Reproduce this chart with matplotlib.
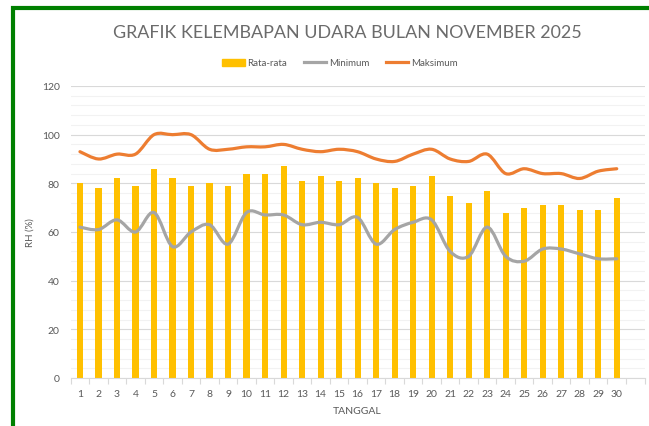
import matplotlib
matplotlib.use("Agg")
import matplotlib.pyplot as plt
import numpy as np
from matplotlib.path import Path
from matplotlib.patches import PathPatch, Rectangle
from matplotlib.lines import Line2D
from matplotlib.ticker import MultipleLocator

plt.rcParams['font.family'] = ['Lato', 'DejaVu Sans']

days = list(range(1, 31))
rata_rata = [80, 78, 82, 79, 86, 82, 79, 80, 79, 84, 84, 87, 81, 83, 81,
             82, 80, 78, 79, 83, 75, 72, 77, 68, 70, 71, 71, 69, 69, 74]
minimum = [62, 61, 65, 60, 68, 54, 60, 63, 55, 68, 67, 67, 63, 64, 63,
           66, 55, 61, 64, 65, 52, 50, 62, 50, 48, 53, 53, 51, 49, 49]
maksimum = [93, 90, 92, 92, 100, 100, 100, 94, 94, 95, 95, 96, 94, 93, 94,
            93, 90, 89, 92, 94, 90, 89, 92, 84, 86, 84, 84, 82, 85, 86]
x_ticks = [str(d) for d in days]
title = "GRAFIK KELEMBAPAN UDARA BULAN NOVEMBER 2025"

C_BAR = '#FFC000'
C_MIN = '#A5A5A5'
C_MAX = '#ED7D31'
C_TXT = '#595959'

W, H = 649, 427
fig = plt.figure(figsize=(W / 100, H / 100), dpi=100)

ax = fig.add_axes([70.7 / W, (H - 379) / H, (644.5 - 70.7) / W, (379 - 87) / H])


def smooth_path(xs, ys):
    xs = np.asarray(xs, float)
    ys = np.asarray(ys, float)
    pts = np.column_stack([xs, ys])
    n = len(pts)
    verts = [pts[0]]
    codes = [Path.MOVETO]
    for i in range(n - 1):
        p0 = pts[i - 1] if i > 0 else pts[i]
        p1 = pts[i]
        p2 = pts[i + 1]
        p3 = pts[i + 2] if i + 2 < n else pts[i + 1]
        c1 = p1 + (p2 - p0) / 6.0
        c2 = p2 - (p3 - p1) / 6.0
        verts += [c1, c2, p2]
        codes += [Path.CURVE4] * 3
    return Path(verts, codes)


ax.bar(days, rata_rata, width=0.33, color=C_BAR, zorder=2)
for ys, col in [(minimum, C_MIN), (maksimum, C_MAX)]:
    patch = PathPatch(smooth_path(days, ys), facecolor='none', edgecolor=col,
                      lw=2.3, capstyle='round', joinstyle='round', zorder=3)
    ax.add_patch(patch)

ax.set_xlim(0.5, 31.5)
ax.set_ylim(0, 120)
ax.yaxis.set_major_locator(MultipleLocator(20))
ax.yaxis.set_minor_locator(MultipleLocator(4))
ax.grid(axis='y', which='major', color='#D9D9D9', lw=0.8, zorder=0)
ax.grid(axis='y', which='minor', color='#F2F2F2', lw=0.8, zorder=0)
ax.set_axisbelow(True)
ax.set_xticks(days)
ax.set_xticklabels(x_ticks)
ax.set_xticks(np.arange(0.5, 32, 1), minor=True)
ax.tick_params(axis='x', which='major', length=0, pad=8, labelsize=7.5, colors=C_TXT)
ax.tick_params(axis='x', which='minor', length=4, color='#D9D9D9', width=0.8)
ax.tick_params(axis='y', which='both', length=0, pad=8, labelsize=7.5, colors=C_TXT)
for s in ['top', 'right', 'left']:
    ax.spines[s].set_visible(False)
ax.spines['bottom'].set_color('#D9D9D9')
ax.spines['bottom'].set_linewidth(0.8)
ax.set_xlabel('TANGGAL', fontsize=7.5, color=C_TXT, labelpad=6)
ax.set_ylabel('RH (%)', fontsize=7, color=C_TXT)
ax.yaxis.set_label_coords((35 - 70.7) / 573.8, 0.5)

fig.text(347 / W, 1 - 33 / H, title, ha='center', va='center', fontsize=12.9,
         color='#6b6b6b', fontweight='normal')

handles = [Rectangle((0, 0), 1, 1, color=C_BAR),
           Line2D([], [], color=C_MIN, lw=2.3),
           Line2D([], [], color=C_MAX, lw=2.3)]
fig.legend(handles, ['Rata-rata', 'Minimum', 'Maksimum'], loc='center',
           bbox_to_anchor=(340 / W, 1 - 64 / H), ncol=3, frameon=False,
           fontsize=7, labelcolor=C_TXT, handlelength=2.3, handleheight=0.7,
           handletextpad=0.3, columnspacing=1.7)

# green outer border (cropped at right and bottom)
fig.patches.append(Rectangle((12.5 / W, -0.1), 1.2, 1 - 8.7 / H + 0.1,
                             transform=fig.transFigure, fill=False,
                             edgecolor='#008000', lw=3, zorder=10))

fig.savefig('out.png', dpi=100)
